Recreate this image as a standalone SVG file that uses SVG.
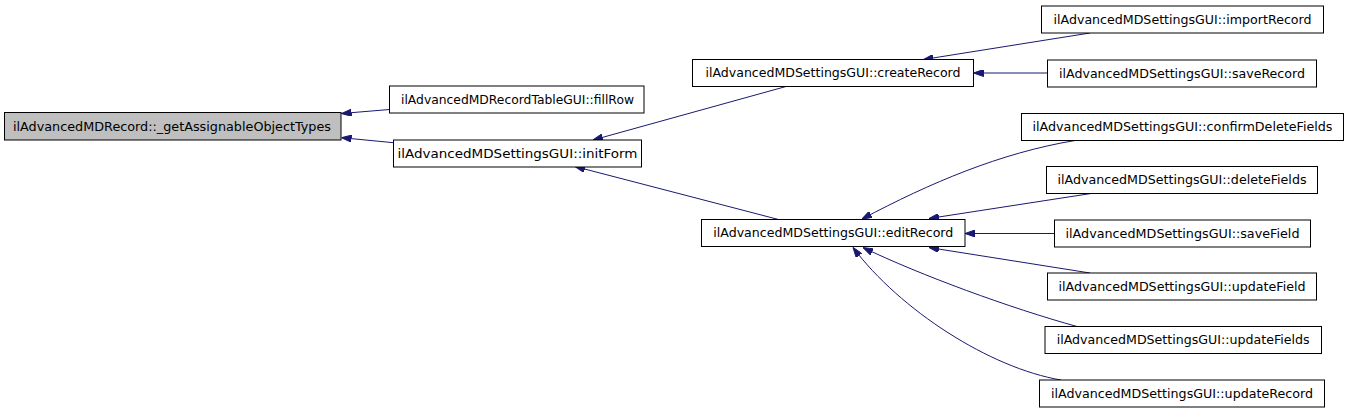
<svg xmlns="http://www.w3.org/2000/svg" width="1349" height="413" viewBox="0 0 1349 413">
<style>
.box{fill:#ffffff;stroke:#000000;stroke-width:1}
.root{fill:#bfbfbf}
.lbl{font-family:"DejaVu Sans",sans-serif;font-size:12px;fill:#000000;text-anchor:middle}
.edge{fill:none;stroke:#191970;stroke-width:1;marker-end:url(#ah)}
</style>
<defs>
<marker id="ah" viewBox="0 0 10 7" refX="10" refY="3.5" markerWidth="10" markerHeight="7" markerUnits="userSpaceOnUse" orient="auto">
<path d="M0,0 L10,3.5 L0,7 z" fill="#191970" stroke="#191970" stroke-width="1"/>
</marker>
</defs>
<rect width="1349" height="413" fill="#ffffff"/>
<g id="edges">
<path class="edge" d="M389.5,109.5 L341.5,113.5"/>
<path class="edge" d="M393.5,142.7 L341.5,137.7"/>
<path class="edge" d="M786,86.5 L593,140"/>
<path class="edge" d="M778.5,219.5 L575,166.5"/>
<path class="edge" d="M1090,33 L923.5,59.5"/>
<path class="edge" d="M1047.5,73 L973.5,73"/>
<path class="edge" d="M1075,140.5 C1000,153 930,183 862,219"/>
<path class="edge" d="M1091,193.5 L929,218.5"/>
<path class="edge" d="M1054.5,233.5 L965,233.5"/>
<path class="edge" d="M1090,273 L929,247.5"/>
<path class="edge" d="M1077,326.5 C1010,308 920,275 863,247.5"/>
<path class="edge" d="M1061,380 C990,368 900,310 853,247.5"/>
</g>
<g id="n_root"><rect class="box root" x="4.5" y="112.5" width="336.5" height="27.5"/><text class="lbl" x="172" y="130.6" textLength="318" lengthAdjust="spacingAndGlyphs">ilAdvancedMDRecord::_getAssignableObjectTypes</text></g>
<g id="n_fillRow"><rect class="box" x="389.5" y="86" width="254.5" height="27"/><text class="lbl" x="517.5" y="103.8" textLength="233" lengthAdjust="spacingAndGlyphs">ilAdvancedMDRecordTableGUI::fillRow</text></g>
<g id="n_initForm"><rect class="box" x="393.5" y="140" width="248" height="27"/><text class="lbl" x="517.5" y="157.8" textLength="240" lengthAdjust="spacingAndGlyphs">ilAdvancedMDSettingsGUI::initForm</text></g>
<g id="n_createRecord"><rect class="box" x="692.5" y="59.5" width="281" height="27"/><text class="lbl" x="833" y="77.3" textLength="255" lengthAdjust="spacingAndGlyphs">ilAdvancedMDSettingsGUI::createRecord</text></g>
<g id="n_importRecord"><rect class="box" x="1041.5" y="6" width="282" height="27"/><text class="lbl" x="1182.5" y="23.8" textLength="258" lengthAdjust="spacingAndGlyphs">ilAdvancedMDSettingsGUI::importRecord</text></g>
<g id="n_saveRecord"><rect class="box" x="1047.5" y="60" width="269" height="27"/><text class="lbl" x="1182" y="77.8" textLength="246" lengthAdjust="spacingAndGlyphs">ilAdvancedMDSettingsGUI::saveRecord</text></g>
<g id="n_confirmDeleteFields"><rect class="box" x="1021.5" y="113.5" width="322" height="27"/><text class="lbl" x="1182.5" y="131.3" textLength="300" lengthAdjust="spacingAndGlyphs">ilAdvancedMDSettingsGUI::confirmDeleteFields</text></g>
<g id="n_deleteFields"><rect class="box" x="1046.5" y="166.5" width="271" height="27"/><text class="lbl" x="1182" y="184.3" textLength="249" lengthAdjust="spacingAndGlyphs">ilAdvancedMDSettingsGUI::deleteFields</text></g>
<g id="n_editRecord"><rect class="box" x="701.5" y="219.5" width="263.5" height="27"/><text class="lbl" x="833.3" y="237.3" textLength="240" lengthAdjust="spacingAndGlyphs">ilAdvancedMDSettingsGUI::editRecord</text></g>
<g id="n_saveField"><rect class="box" x="1054.5" y="220" width="256" height="27"/><text class="lbl" x="1182.5" y="237.8" textLength="234" lengthAdjust="spacingAndGlyphs">ilAdvancedMDSettingsGUI::saveField</text></g>
<g id="n_updateField"><rect class="box" x="1047.5" y="273" width="269" height="27"/><text class="lbl" x="1182" y="290.8" textLength="247" lengthAdjust="spacingAndGlyphs">ilAdvancedMDSettingsGUI::updateField</text></g>
<g id="n_updateFields"><rect class="box" x="1045" y="326.5" width="276.5" height="27"/><text class="lbl" x="1183.2" y="344.3" textLength="253" lengthAdjust="spacingAndGlyphs">ilAdvancedMDSettingsGUI::updateFields</text></g>
<g id="n_updateRecord"><rect class="box" x="1039.5" y="380" width="285" height="27"/><text class="lbl" x="1182" y="397.8" textLength="262" lengthAdjust="spacingAndGlyphs">ilAdvancedMDSettingsGUI::updateRecord</text></g>
</svg>
